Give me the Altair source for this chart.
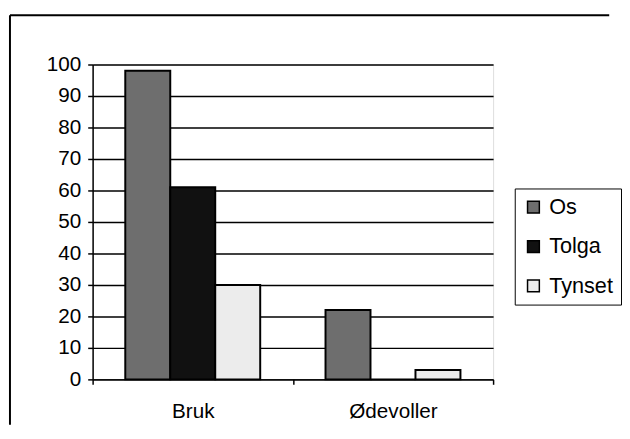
import altair as alt
import pandas as pd

categories = ["Bruk", "Ødevoller"]
series = ["Os", "Tolga", "Tynset"]
bruk_values = [98, 61, 30]
odevoller_values = [22, 0, 3]
y_ticks = [0, 10, 20, 30, 40, 50, 60, 70, 80, 90, 100]
series_colors = ["#6e6e6e", "#111111", "#ececec"]

rows = []
for cat, vals in zip(categories, [bruk_values, odevoller_values]):
    for s, v in zip(series, vals):
        rows.append({"Sted": cat, "Serie": s, "Verdi": v})
df = pd.DataFrame(rows)

FONT = "Liberation Sans"

bars = alt.Chart(df).mark_bar(stroke="black", strokeWidth=2).encode(
    x=alt.X(
        "Sted:N",
        sort=categories,
        scale=alt.Scale(paddingInner=0, paddingOuter=0),
        axis=alt.Axis(
            title=None, labelAngle=0, tickBand="extent", grid=False,
            domainColor="black", domainWidth=1.5, tickColor="black", tickWidth=1.5,
            tickSize=5, labelFontSize=21, labelColor="black", labelPadding=17,
            labelFont=FONT,
        ),
    ),
    xOffset=alt.XOffset(
        "Serie:N", sort=series,
        scale=alt.Scale(paddingInner=0, paddingOuter=0.726),
    ),
    y=alt.Y(
        "Verdi:Q",
        scale=alt.Scale(domain=[0, 100], nice=False),
        axis=alt.Axis(
            title=None, values=y_ticks, grid=True, gridColor="black", gridWidth=1.5,
            domainColor="black", domainWidth=1.5, tickColor="black", tickWidth=1.5,
            tickSize=5, labelFontSize=21, labelColor="black", labelPadding=7,
            labelFont=FONT,
        ),
    ),
    color=alt.Color(
        "Serie:N", sort=series,
        scale=alt.Scale(domain=series, range=series_colors),
        legend=alt.Legend(
            title=None, orient="none", legendX=429, legendY=126,
            symbolType="square", symbolSize=144, symbolStrokeColor="black",
            symbolStrokeWidth=1.5, symbolOpacity=1,
            labelFontSize=22, labelFont=FONT, labelColor="black", labelOffset=5,
            strokeColor="black", fillColor="white", padding=8, rowPadding=18,
        ),
    ),
)

frame_df = pd.DataFrame({"k": [0]})
frame_left = alt.Chart(frame_df).mark_rule(color="black", strokeWidth=2).encode(
    x=alt.value(-84), y=alt.value(-50), y2=alt.value(366)
)
frame_top = alt.Chart(frame_df).mark_rule(color="black", strokeWidth=2).encode(
    x=alt.value(-84), x2=alt.value(525), y=alt.value(-50)
)

chart = alt.layer(frame_left, frame_top, bars).properties(
    width=407, height=320,
    padding={"left": 1, "top": 3, "right": 0, "bottom": 0},
    background="white",
).configure_view(
    fill="#bdbdbd", stroke="black", strokeWidth=1.5
).configure(font=FONT)

chart.save("out.html", embed_options={"renderer": "svg", "actions": False})
